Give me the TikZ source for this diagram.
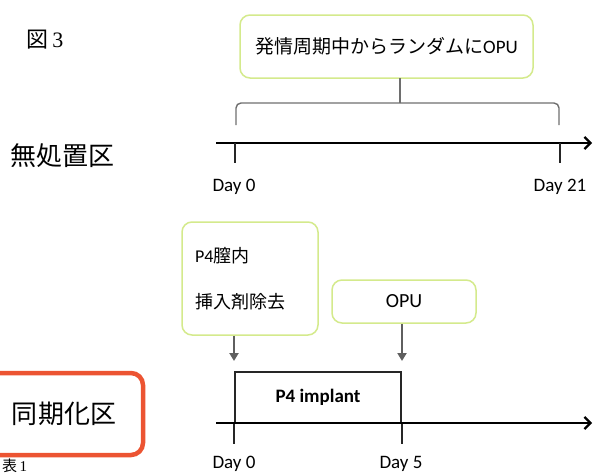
\documentclass[tikz,border=0pt]{standalone}
\usepackage{fontspec}
\setmainfont{Carlito}
\newfontfamily\jp{Noto Sans CJK JP}
\newfontfamily\serifnum{Liberation Serif}
\usetikzlibrary{arrows.meta}
\definecolor{boxgreen}{RGB}{212,234,140}
\definecolor{redbox}{RGB}{236,84,50}
\definecolor{arrowgray}{RGB}{95,95,95}
\definecolor{bracegray}{RGB}{110,110,110}
\begin{document}
\begin{tikzpicture}[x=1pt,y=-1pt,
  gbox/.style={draw=boxgreen, line width=1.5pt, rounded corners=10pt, fill=white, inner sep=0pt},
  axis/.style={line width=2.8pt, -{Straight Barb[length=6pt,width=12pt,line width=2.2pt]}},
  tickline/.style={line width=2.4pt, black!85},
  downarrow/.style={line width=2.4pt, arrowgray, -{Triangle[length=8pt,width=9pt]}},
  daylab/.style={font=\fontsize{19}{22}\selectfont, inner sep=0pt},
  bracepath/.style={line width=1.4pt, bracegray, rounded corners=5pt},
  bigjp/.style={font=\jp\fontsize{26}{30}\selectfont, inner sep=0pt},
]
\useasboundingbox (0,0) rectangle (593,474);
\clip (0,0) rectangle (593,474);

% labels at left
\node[inner sep=0pt, font=\fontsize{22}{26}\selectfont] (fig) at (45,40) {{\jp 図}\,{\serifnum 3}};
\node[bigjp] (ctrl) at (62,156) {無処置区};
\node[draw=redbox, line width=4.5pt, rounded corners=12pt, minimum width=158pt, minimum height=82pt, bigjp] (sync) at (64,414) {同期化区};
\node[anchor=south west, inner sep=0pt, font=\fontsize{15}{18}\selectfont] (tab) at (2,473) {{\jp 表}\,{\serifnum 1}};

% top group
\node[gbox, minimum width=293pt, minimum height=63pt, font=\fontsize{19}{22}\selectfont] (rand) at (386.5,46.5) {{\jp 発情周期中からランダムに}OPU};
\coordinate (t1s) at (216,143);
\coordinate (t1e) at (592,143);
\coordinate (d0a) at (235,143);
\coordinate (d21) at (560,143);
\draw[axis] (t1s) -- (t1e);
\draw[tickline] (d0a) -- ++(0,20);
\draw[tickline] (d21) -- ++(0,20);
\node[daylab] (lab0a) at (234,187) {Day 0};
\node[daylab] (lab21) at (560,187) {Day 21};
% brace
\coordinate (nub) at (400,78);
\draw[bracepath] (236,125) -- (236,103) -- (400,103);
\draw[bracepath] (559,125) -- (559,103) -- (400,103);
\draw[line width=1.4pt, bracegray] (nub) -- (400,103);

% bottom group
\node[gbox, minimum width=136pt, minimum height=113pt, text width=110pt, align=left, font=\fontsize{18}{22}\selectfont] (p4) at (250,278.5) {P4{\jp 膣内}\\[24pt]{\jp 挿入剤除去}};
\node[gbox, minimum width=144pt, minimum height=43pt, font=\fontsize{20}{24}\selectfont] (opu) at (404,301.5) {OPU};
\node[draw, line width=2pt, black!85, text=black, minimum width=166pt, minimum height=51pt, inner sep=0pt, font=\bfseries\fontsize{19}{22}\selectfont] (impl) at (318,397.5) {P4 implant};
\coordinate (t2s) at (216,423);
\coordinate (t2e) at (592,423);
\draw[axis] (t2s) -- (t2e);
\draw[tickline] (impl.south west) -- ++(0,20);
\draw[tickline] (impl.south east) -- ++(0,20);
\draw[downarrow] (p4.south -| impl.west) -- ([yshift=10pt]impl.north west);
\draw[downarrow] (opu.south -| impl.east) -- ([yshift=10pt]impl.north east);
\node[daylab] (lab0b) at (234,464) {Day 0};
\node[daylab] (lab5) at (401,464) {Day 5};
\end{tikzpicture}
\end{document}
